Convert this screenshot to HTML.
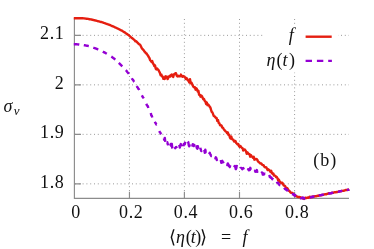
<!DOCTYPE html>
<html><head><meta charset="utf-8">
<style>
html,body{margin:0;padding:0;background:#fff;}
body{width:374px;height:249px;overflow:hidden;}
svg{display:block;will-change:transform;}
text{font-family:"Liberation Serif",serif;fill:#111;}
.t{font-size:18px;}
.i{font-style:italic;}
.g{stroke:#9a9a9a;stroke-width:1;stroke-dasharray:1 2.8;fill:none;}
.ax{stroke:#8c8c8c;stroke-width:1.15;fill:none;}
</style></head><body>
<svg width="374" height="249" viewBox="0 0 374 249">
<rect width="374" height="249" fill="#fff"/>
<!-- grid -->
<g class="g">
<path d="M75 35.350H349M75 84.850H349M75 134.350H349M75 183.850H349"/>
<path d="M129.450 19V198M184.400 19V198M239.500 19V198M294.600 19V198"/>
</g>
<rect x="263" y="25" width="75" height="47.500" fill="#fff"/>
<!-- axes -->
<path class="ax" d="M74.400 18V198.400H349"/>
<path class="ax" d="M74.400 35.350H81M74.400 84.850H81M74.400 134.350H81M74.400 183.850H81M129.450 198V191.700M184.400 198V191.700M239.500 198V191.700M294.600 198V191.700"/>
<!-- curves -->

<path id="red" fill="none" stroke="#e51e10" stroke-width="2.4" stroke-linejoin="round" d="M73.8 18.3L74.5 18.3L75.2 18.3L75.9 18.3L76.6 18.3L77.3 18.3L78.0 18.3L78.7 18.3L79.4 18.3L80.1 18.3L80.8 18.3L81.5 18.3L82.2 18.3L82.9 18.3L83.6 18.4L84.3 18.4L85.0 18.5L85.7 18.6L86.4 18.7L87.1 18.8L87.8 18.9L88.5 19.0L89.2 19.2L89.9 19.3L90.6 19.4L91.3 19.5L92.0 19.7L92.7 19.8L93.4 20.0L94.1 20.2L94.8 20.3L95.5 20.5L96.2 20.7L96.9 20.9L97.6 21.1L98.3 21.3L99.0 21.4L99.7 21.6L100.4 21.8L101.1 22.0L101.8 22.2L102.5 22.4L103.2 22.6L103.9 22.9L104.6 23.1L105.3 23.3L106.0 23.6L106.7 23.8L107.4 24.1L108.1 24.3L108.8 24.6L109.5 24.9L110.2 25.2L110.9 25.5L111.6 25.8L112.3 26.1L113.0 26.4L113.7 26.7L114.4 27.0L115.1 27.4L115.8 27.7L116.5 28.0L117.2 28.3L117.9 28.7L118.6 29.0L119.3 29.3L120.0 29.7L120.7 30.1L121.4 30.4L122.1 30.8L122.8 31.3L123.5 31.7L124.2 32.1L124.9 32.6L125.6 33.1L126.3 33.5L127.0 34.1L127.7 34.5L128.4 35.0L129.1 35.5L129.8 36.3L130.5 36.8L131.2 37.4L131.9 38.1L132.6 38.6L133.3 39.1L134.0 39.7L134.7 40.3L135.4 41.3L136.1 41.2L136.8 41.9L137.5 42.6L138.2 43.3L138.9 44.1L139.6 44.3L140.3 45.0L141.0 46.5L141.7 48.0L142.4 48.9L143.1 49.7L143.8 50.4L144.5 51.5L145.2 52.1L145.9 53.3L146.6 53.5L147.3 54.8L148.0 55.6L148.7 57.0L149.4 57.9L150.1 60.2L150.8 60.8L151.5 61.9L152.2 61.0L152.9 63.2L153.6 64.2L154.3 66.1L155.0 65.3L155.7 68.6L156.4 69.4L157.1 68.4L157.8 69.3L158.5 70.1L159.2 71.5L159.9 72.9L160.6 75.2L161.3 74.4L162.0 76.4L162.7 76.7L163.4 78.8L164.1 78.0L164.8 78.9L165.5 76.3L166.2 77.4L166.9 76.6L167.6 79.1L168.3 77.8L169.0 76.4L169.7 75.8L170.4 76.6L171.1 74.9L171.8 74.4L172.5 75.7L173.2 77.0L173.9 74.4L174.6 74.0L175.3 73.3L176.0 73.3L176.7 75.7L177.4 76.4L178.1 75.7L178.8 76.3L179.5 76.2L180.2 76.4L180.9 74.6L181.6 76.0L182.3 76.8L183.0 76.0L183.7 76.6L184.4 76.5L185.1 77.4L185.8 79.1L186.5 78.1L187.2 78.8L187.9 80.4L188.6 80.8L189.3 82.6L190.0 79.2L190.7 83.2L191.4 82.5L192.1 84.1L192.8 85.7L193.5 86.8L194.2 87.5L194.9 87.2L195.6 89.7L196.3 88.3L197.0 89.3L197.7 91.4L198.4 90.8L199.1 94.7L199.8 94.7L200.5 96.7L201.2 95.5L201.9 96.1L202.6 97.7L203.3 99.3L204.0 99.0L204.7 100.9L205.4 101.4L206.1 103.9L206.8 102.6L207.5 105.2L208.2 104.6L208.9 105.3L209.6 106.6L210.3 107.3L211.0 109.7L211.7 111.8L212.4 112.4L213.1 114.1L213.8 116.1L214.5 116.1L215.2 117.2L215.9 117.9L216.6 117.9L217.3 120.9L218.0 119.9L218.7 122.9L219.4 123.3L220.1 125.3L220.8 125.2L221.5 125.5L222.2 127.5L222.9 127.6L223.6 128.8L224.3 129.9L225.0 130.7L225.7 131.5L226.4 131.8L227.1 133.2L227.8 132.4L228.5 134.9L229.2 134.8L229.9 137.5L230.6 138.5L231.3 136.6L232.0 139.1L232.7 139.6L233.4 139.6L234.1 141.6L234.8 141.5L235.5 141.1L236.2 143.0L236.9 143.7L237.6 144.5L238.3 144.0L239.0 146.2L239.7 146.9L240.4 145.9L241.1 146.9L241.8 147.9L242.5 148.1L243.2 150.5L243.9 149.8L244.6 149.4L245.3 150.2L246.0 151.3L246.7 153.8L247.4 152.4L248.1 153.2L248.8 154.1L249.5 154.2L250.2 156.7L250.9 155.0L251.6 156.6L252.3 156.7L253.0 157.7L253.7 156.8L254.4 159.7L255.1 158.7L255.8 159.3L256.5 159.0L257.2 159.6L257.9 161.2L258.6 162.0L259.3 162.4L260.0 163.3L260.7 163.5L261.4 163.5L262.1 164.7L262.8 165.1L263.5 165.2L264.2 166.4L264.9 167.3L265.6 167.2L266.3 167.4L267.0 168.7L267.7 170.1L268.4 169.3L269.1 170.0L269.8 170.6L270.5 172.1L271.2 170.8L271.9 172.8L272.6 174.0L273.3 173.5L274.0 175.5L274.7 175.7L275.4 175.9L276.1 177.1L276.8 177.0L277.5 178.3L278.2 180.4L278.9 179.7L279.6 181.9L280.3 181.7L281.0 183.0L281.7 183.2L282.4 182.8L283.1 184.4L283.8 185.5L284.5 185.6L285.2 186.2L285.9 187.7L286.6 188.0L287.3 188.2L288.0 189.3L288.7 190.7L289.4 190.7L290.1 192.0L290.8 192.8L291.5 192.8L292.2 192.9L292.9 193.3L293.6 194.4L294.3 195.2L295.0 195.5L295.7 196.0L296.4 196.1L297.1 196.7L297.8 196.8L298.5 197.0L299.2 196.9L299.9 197.1L300.6 197.6L301.3 197.6L302.0 197.7L302.7 198.3L303.4 198.1L304.1 198.9L304.8 198.2L305.5 197.7L306.2 198.0L306.9 197.8L307.6 197.5L308.3 197.8L309.0 197.3L309.7 196.7L310.4 197.3L311.1 196.9L311.8 197.2L312.5 196.7L313.2 196.5L313.9 196.7L314.6 196.3L315.3 196.3L316.0 196.3L316.7 196.0L317.4 195.8L318.1 195.7L318.8 195.7L319.5 195.3L320.2 195.4L320.9 195.2L321.6 195.3L322.3 194.8L323.0 194.6L323.7 194.7L324.4 194.4L325.1 194.3L325.8 194.2L326.5 194.2L327.2 193.8L327.9 193.7L328.6 193.3L329.3 193.4L330.0 193.5L330.7 193.1L331.4 193.0L332.1 192.8L332.8 192.8L333.5 192.7L334.2 192.3L334.9 192.4L335.6 192.2L336.3 192.2L337.0 191.9L337.7 192.0L338.4 191.7L339.1 191.5L339.8 191.3L340.5 191.2L341.2 191.2L341.9 190.9L342.6 190.9L343.3 190.7L344.0 190.7L344.7 190.5L345.4 190.2L346.1 189.9L346.8 190.0L347.5 189.9L348.2 189.7L348.9 189.6L349.3 189.4"/>
<path id="pur" fill="none" stroke="#9400d3" stroke-width="2.4" stroke-linejoin="round" d="M73.8 44.2L74.3 44.2L74.8 44.2L75.3 44.3L75.8 44.3L76.3 44.3L76.8 44.3L77.3 44.4L77.8 44.4L78.3 44.5L78.8 44.5L79.3 44.6M83.8 45.1L84.3 45.2L84.8 45.3L85.3 45.4L85.8 45.5L86.3 45.6L86.8 45.7L87.3 45.8L87.8 45.9L88.3 46.0L88.8 46.1M93.3 47.6L93.8 47.8L94.3 48.0L94.8 48.2L95.3 48.4L95.8 48.5L96.3 48.7L96.8 48.9L97.3 49.1L97.8 49.3L98.3 49.5M102.8 51.6L103.3 51.9L103.8 52.1L104.3 52.4L104.8 52.7L105.3 52.9L105.8 53.2L106.3 53.5L106.8 53.8M111.3 56.6L111.8 56.9L112.3 57.3L112.8 57.6L113.3 58.0L113.8 58.4L114.3 58.8L114.8 59.2L115.3 59.6M118.8 62.8L119.3 63.3L119.8 63.8L120.3 64.3L120.8 64.8L121.3 65.3L121.8 65.8L122.3 66.3M125.8 70.2L126.3 70.7L126.8 71.3L127.3 72.0L127.8 72.6L128.3 73.1L128.8 74.0M131.8 78.3L132.3 79.3L132.8 79.5L133.3 80.3L133.8 81.3L134.3 81.8M136.8 86.1L137.3 87.2L137.8 87.7L138.3 88.8L138.8 89.0L139.3 90.0M141.8 95.3L142.3 96.1L142.8 97.1L143.3 97.7L143.8 98.4M146.3 103.8L146.8 105.0L147.3 105.7L147.8 106.1L148.3 108.0M150.8 112.9L151.3 115.5L151.8 115.8L152.3 117.5M154.8 121.7L155.3 122.7L155.8 123.4L156.3 124.4L156.8 124.2M159.3 131.1L159.8 132.2L160.3 132.7L160.8 133.6L161.3 134.3M163.8 138.3L164.3 139.8L164.8 137.9L165.3 141.8M166.8 142.3L167.3 142.3L167.8 144.4L168.3 143.5M170.3 145.8L170.8 143.9L171.3 146.0L171.8 143.9L172.3 148.5M174.8 147.0L175.3 148.2L175.8 147.3L176.3 146.9L176.8 148.1M179.3 144.7L179.8 147.6L180.3 145.2L180.8 144.1L181.3 146.4M183.3 146.2L183.8 143.9L184.3 144.2L184.8 144.2L185.3 141.7M187.8 141.5L188.3 142.2L188.8 145.4L189.3 146.3L189.8 144.2M191.8 145.0L192.3 145.6L192.8 144.2L193.3 145.6L193.8 146.1L194.3 143.7M196.3 145.3L196.8 147.9L197.3 148.7L197.8 146.1L198.3 148.4M200.3 147.7L200.8 149.8L201.3 151.1L201.8 150.4M204.3 149.8L204.8 152.7L205.3 149.7L205.8 152.1L206.3 151.8M208.8 154.2L209.3 153.7L209.8 152.8L210.3 154.2L210.8 155.3L211.3 156.0L211.8 155.9M214.8 157.8L215.3 158.3L215.8 157.3L216.3 157.9L216.8 160.1L217.3 159.4L217.8 159.2M220.8 160.0L221.3 162.7L221.8 161.4L222.3 160.8L222.8 162.2L223.3 162.4L223.8 163.1M226.8 164.3L227.3 165.0L227.8 163.5L228.3 164.3L228.8 165.8L229.3 165.5L229.8 167.0L230.3 165.2M233.8 167.2L234.3 166.7L234.8 166.1L235.3 167.0L235.8 169.1L236.3 168.1L236.8 164.9M240.3 168.5L240.8 168.0L241.3 167.9L241.8 168.3L242.3 169.2L242.8 168.7L243.3 168.1L243.8 169.5M247.3 170.0L247.8 169.7L248.3 169.2L248.8 170.3L249.3 169.9L249.8 170.0L250.3 167.8L250.8 169.7M254.3 171.1L254.8 170.8L255.3 171.7L255.8 170.9L256.3 171.4L256.8 170.1L257.3 171.8L257.8 171.2M261.3 173.1L261.8 172.5L262.3 172.6L262.8 174.6L263.3 173.4L263.8 174.4L264.3 174.1L264.8 173.7L265.3 173.8M269.3 174.9L269.8 177.0L270.3 176.7L270.8 177.7L271.3 177.4L271.8 178.3L272.3 179.3L272.8 179.0L273.3 179.4M276.8 181.8L277.3 182.8L277.8 182.8L278.3 182.9L278.8 184.4L279.3 184.6L279.8 185.1L280.3 185.2M284.3 187.7L284.8 188.9L285.3 188.6L285.8 189.0L286.3 190.0L286.8 190.3L287.3 189.9L287.8 191.4M291.8 194.2L292.3 194.2L292.8 194.0L293.3 194.5L293.8 194.3L294.3 195.0L294.8 195.8L295.3 195.1L295.8 195.8M300.3 198.1L300.8 198.4L301.3 198.0L301.8 198.0L302.3 198.3L302.8 197.5L303.3 198.1L303.8 197.8L304.3 198.7L304.8 198.2L305.3 198.0M309.8 197.5L310.3 197.5L310.8 197.2L311.3 197.0L311.8 197.1L312.3 196.6L312.8 196.8L313.3 196.8L313.8 196.4L314.3 196.6M318.8 195.6L319.3 195.4L319.8 195.3L320.3 195.4L320.8 195.2L321.3 195.0L321.8 194.8L322.3 195.0L322.8 194.8L323.3 194.6L323.8 194.6M328.3 193.7L328.8 193.7L329.3 193.4L329.8 193.3L330.3 193.3L330.8 193.2L331.3 193.2L331.8 192.8L332.3 193.0L332.8 192.7L333.3 192.6M337.8 191.7L338.3 191.8L338.8 191.6L339.3 191.5L339.8 191.4L340.3 191.2L340.8 191.1L341.3 191.0L341.8 191.0L342.3 190.9M346.8 190.1L347.3 190.0L347.8 189.8L348.3 189.7L348.8 189.7L349.3 189.5"/>


<!-- legend -->
<path d="M305.600 36.700H331.700" stroke="#e51e10" stroke-width="2.400"/>
<path d="M305.600 60.900H331.900" stroke="#9400d3" stroke-width="2.400" stroke-dasharray="6.400 4.900"/>
<text class="t i" x="291.2" y="40.5" text-anchor="middle" font-size="20">f</text>
<text class="t i" x="271" y="65.5" text-anchor="middle" font-size="20.5">η</text>
<text class="t" x="279.5" y="65.5" text-anchor="middle" font-size="19">(</text>
<text class="t i" x="285" y="65.5" text-anchor="middle" font-size="18">t</text>
<text class="t" x="292" y="65.5" text-anchor="middle" font-size="19">)</text>
<!-- tick labels -->
<g class="t" letter-spacing="0.6">
<text x="64.400" y="39.300" text-anchor="end">2.1</text>
<text x="64.400" y="88.500" text-anchor="end">2</text>
<text x="64.400" y="138.300" text-anchor="end">1.9</text>
<text x="64.400" y="187.800" text-anchor="end">1.8</text>
<text x="76" y="218.400" text-anchor="middle">0</text>
<text x="131.200" y="218.400" text-anchor="middle">0.2</text>
<text x="186" y="218.400" text-anchor="middle">0.4</text>
<text x="241.200" y="218.400" text-anchor="middle">0.6</text>
<text x="297.100" y="218.400" text-anchor="middle">0.8</text>
<text x="325.200" y="165.900" text-anchor="middle" letter-spacing="1">(b)</text>
</g>
<text class="i" x="3.500" y="112.300" font-size="18">σ<tspan font-size="13" dy="2.300" dx="1.3">v</tspan></text>
<g font-size="18">
<text class="t" x="172.3" y="242.8" text-anchor="middle" font-size="19">⟨</text>
<text class="t i" x="180.5" y="242.8" text-anchor="middle" font-size="20.5">η</text>
<text class="t" x="188.7" y="242.8" text-anchor="middle" font-size="19">(</text>
<text class="t i" x="193.2" y="242.8" text-anchor="middle" font-size="18">t</text>
<text class="t" x="198.3" y="242.8" text-anchor="middle" font-size="19">)</text>
<text class="t" x="203" y="242.8" text-anchor="middle" font-size="19">⟩</text>
<text class="t" x="226.2" y="243.3" text-anchor="middle" font-size="21">=</text>
<text class="t i" x="245" y="242.8" text-anchor="middle" font-size="20">f</text>
</g>
</svg>
</body></html>
